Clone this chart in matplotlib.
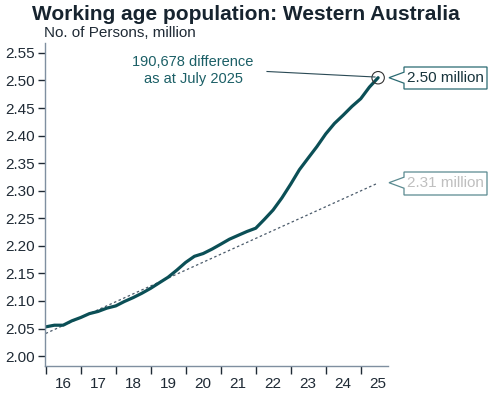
import matplotlib.pyplot as plt
import matplotlib.dates as mdates
import pandas as pd
from matplotlib.patches import Polygon

plt.rcParams['font.family'] = ['Liberation Sans', 'DejaVu Sans']

# quarterly readings, working age population WA (million)
dates = ['2016-01', '2016-04', '2016-07', '2016-10',
         '2017-01', '2017-04', '2017-07', '2017-10',
         '2018-01', '2018-04', '2018-07', '2018-10',
         '2019-01', '2019-04', '2019-07', '2019-10',
         '2020-01', '2020-04', '2020-07', '2020-10',
         '2021-01', '2021-04', '2021-07', '2021-10',
         '2022-01', '2022-04', '2022-07', '2022-10',
         '2023-01', '2023-04', '2023-07', '2023-10',
         '2024-01', '2024-04', '2024-07', '2024-10',
         '2025-01', '2025-04', '2025-07']
persons = [2.053, 2.056, 2.056, 2.064,
           2.070, 2.077, 2.081, 2.087,
           2.091, 2.099, 2.106, 2.114,
           2.123, 2.133, 2.143, 2.156,
           2.170, 2.181, 2.186, 2.194,
           2.203, 2.212, 2.219, 2.226,
           2.232, 2.248, 2.265, 2.287,
           2.312, 2.338, 2.359, 2.380,
           2.403, 2.422, 2.437, 2.453,
           2.467, 2.488, 2.505]

trend_dates = ['2016-01', '2025-07']
trend = [2.041, 2.314]

years = list(range(2016, 2026))
year_labels = ['16', '17', '18', '19', '20', '21', '22', '23', '24', '25']
yticks = [2.00, 2.05, 2.10, 2.15, 2.20, 2.25, 2.30, 2.35, 2.40, 2.45, 2.50, 2.55]

x = pd.to_datetime(dates)
xt = pd.to_datetime(trend_dates)

teal = '#0b4f56'
txt = '#1f2a35'
axc = '#7f8fa0'

fig = plt.figure(figsize=(4.92, 3.97), dpi=100)
ax = fig.add_axes([45/492, 1-366/397, 343/492, 323/397])

ax.plot(xt, trend, color='#4a5a6a', lw=0.9, ls=(0, (2, 2)))
ax.plot(x, persons, color=teal, lw=2.3, solid_capstyle='round')
ax.scatter([x[-1]], [persons[-1]], s=80, facecolors='none', edgecolors='#333333', lw=0.8, zorder=5)

ax.set_xlim(pd.Timestamp('2015-12-25'), pd.Timestamp('2025-10-12'))
ax.set_ylim(1.982, 2.568)
ax.set_yticks(yticks)
ax.set_yticklabels(['%.2f' % v for v in yticks])

ax.set_xticks([pd.Timestamp('%d-01-01' % y) for y in years])
ax.set_xticklabels([])
ax.set_xticks([pd.Timestamp('%d-07-01' % y) for y in years], minor=True)
ax.set_xticklabels(year_labels, minor=True)
ax.tick_params(axis='x', which='major', length=6, width=1, color=txt, direction='out')
ax.tick_params(axis='x', which='minor', length=0, labelsize=11, labelcolor=txt, pad=8)
ax.tick_params(axis='y', length=5, width=1, color=txt, labelsize=11, labelcolor=txt, pad=2)

for s in ['top', 'right']:
    ax.spines[s].set_visible(False)
for s in ['left', 'bottom']:
    ax.spines[s].set_color(axc)
    ax.spines[s].set_linewidth(1)

fig.text(0.5, 1-14/397, 'Working age population: Western Australia', ha='center', va='center',
         fontsize=15, fontweight='bold', color='#17242f')
fig.text(44/492, 1-33/397, 'No. of Persons, million', ha='left', va='center', fontsize=11, color=txt)

# annotation
fig.text(193/492, 1-62/397, '190,678 difference', ha='center', va='center', fontsize=10.5, color='#1b5f66')
fig.text(193/492, 1-79/397, 'as at July 2025', ha='center', va='center', fontsize=10.5, color='#1b5f66')
fig.add_artist(plt.Line2D([267/492, 375/492], [1-71.5/397, 1-77/397], color='#2a4a55', lw=0.8))


def callout(ytop, ybot, ytip, label, tcolor, ecolor):
    pts = [(487, ytop), (404, ytop), (404, ytip-5.5), (389, ytip), (404, ytip+5.5), (404, ybot), (487, ybot)]
    pts = [(px/492, 1-py/397) for px, py in pts]
    fig.add_artist(Polygon(pts, closed=True, transform=fig.transFigure, facecolor='white',
                           edgecolor=ecolor, lw=0.9))
    fig.text(445.5/492, 1-(ytop+ybot)/2/397, label, ha='center', va='center', fontsize=11, color=tcolor)


callout(67, 89, 77.7, '2.50 million', '#17343c', '#2a6a72')
callout(172, 195, 182.7, '2.31 million', '#bfbfbf', '#5a8a90')

fig.savefig('out.png', dpi=100)
